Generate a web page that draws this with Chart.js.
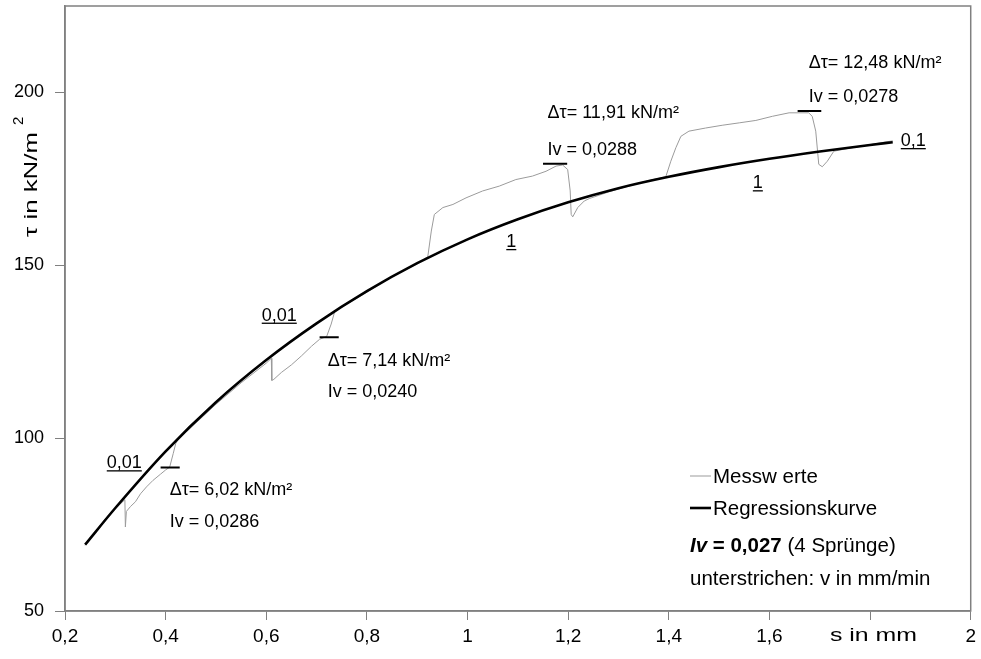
<!DOCTYPE html>
<html>
<head>
<meta charset="utf-8">
<script src="https://cdn.jsdelivr.net/npm/chart.js@4.4.0/dist/chart.umd.min.js"></script>
<style>
  html, body { margin: 0; padding: 0; background: #fff; }
  canvas { display: block; }
</style>
</head>
<body>
<canvas id="shearChart" width="981" height="659"></canvas>
<script>
// axis ticks
const xTickValues = [0.2, 0.4, 0.6, 0.8, 1, 1.2, 1.4, 1.6, 1.8, 2];
const xTickLabels = ['0,2', '0,4', '0,6', '0,8', '1', '1,2', '1,4', '1,6', '', '2'];
const yTickValues = [50, 100, 150, 200];

// regression curve (s in mm, tau in kN/m2)
const regressionS = [0.24, 0.3, 0.4, 0.5, 0.6, 0.7, 0.8, 0.9, 1.0, 1.1, 1.2, 1.3, 1.4, 1.5, 1.6, 1.7, 1.8, 1.845];
const regressionTau = [69.2, 79.8, 96.2, 110.4, 122.6, 133.2, 142.5, 150.6, 157.5, 163.3, 168.2, 172.3, 175.6, 178.4, 180.8, 182.9, 184.8, 185.6];

// measured values
const measuredS = [
    0.240, 0.260, 0.280, 0.300, 0.319, 0.320, 0.322, 0.330, 0.340, 0.350, 0.362, 0.375, 0.390, 0.400, 0.408, 0.415, 0.420, 0.425,
    0.450, 0.500, 0.550, 0.600, 0.610, 0.611, 0.615, 0.630, 0.650, 0.670, 0.690, 0.706, 0.720, 0.729, 0.736,
    0.760, 0.800, 0.850, 0.900, 0.921, 0.928, 0.934, 0.951, 0.971, 0.997, 1.030, 1.063, 1.096, 1.129, 1.156, 1.176, 1.189, 1.199, 1.204, 1.206, 1.209, 1.219, 1.232, 1.242,
    1.280, 1.320, 1.360, 1.394, 1.404, 1.414, 1.424, 1.440, 1.473, 1.506, 1.540, 1.573, 1.606, 1.639, 1.678, 1.685, 1.692, 1.698, 1.705, 1.715, 1.728,
    1.760, 1.800, 1.845
];
const measuredTau = [
    69.0, 72.9, 76.6, 79.6, 82.2, 74.3, 78.8, 80.2, 81.6, 83.9, 85.9, 87.8, 89.6, 90.8, 91.6, 95.5, 98.4, 99.8,
    103.0, 109.8, 116.0, 121.7, 123.1, 116.7, 117.0, 119.0, 121.2, 123.8, 126.6, 128.6, 129.4, 133.0, 136.6,
    138.8, 142.2, 146.8, 150.4, 152.5, 159.9, 164.7, 166.7, 167.6, 169.5, 171.5, 172.9, 174.8, 175.8, 177.2, 178.7, 179.0, 177.7, 171.5, 164.7, 164.0, 166.7, 168.6, 169.3,
    171.2, 172.9, 174.5, 175.6, 180.1, 184.0, 187.3, 188.8, 189.7, 190.5, 191.2, 191.9, 193.1, 194.1, 194.1, 193.1, 188.8, 179.2, 178.5, 180.1, 183.0,
    183.9, 184.9, 186.0
];

// the four velocity jumps
const jumpStartS = [0.390, 0.706, 1.150, 1.656];
const jumpEndS = [0.428, 0.744, 1.198, 1.703];
const jumpTau = [91.5, 129.2, 179.4, 194.6];
const jumpDeltaTau = ['6,02', '7,14', '11,91', '12,48'];
const jumpIv = ['0,0286', '0,0240', '0,0288', '0,0278'];

// velocities v in mm/min (underlined)
const speedLabels = ['0,01', '0,01', '1', '1', '0,1'];

// where the texts sit, in axis units
const jumpTextPos = [
    { s: 0.408, tau1: 83.5, tau2: 74.3 },
    { s: 0.722, tau1: 121.0, tau2: 111.8 },
    { s: 1.159, tau1: 192.6, tau2: 182.0 },
    { s: 1.678, tau1: 207.0, tau2: 197.3 }
];
const speedPos = [
    { s: 0.283, tau: 91.3 },
    { s: 0.591, tau: 134.0 },
    { s: 1.077, tau: 155.3 },
    { s: 1.567, tau: 172.3 },
    { s: 1.861, tau: 184.5 }
];

const FONT = '"Liberation Sans", Arial, Helvetica, sans-serif';

function toPoints(xs, ys) {
    return xs.map((v, i) => ({ x: v, y: ys[i] }));
}

const markerSets = jumpTau.map((t, i) => ({
    label: 'jump' + (i + 1),
    data: [{ x: jumpStartS[i], y: t }, { x: jumpEndS[i], y: t }],
    showLine: true,
    borderColor: '#000',
    borderWidth: 2,
    pointRadius: 0,
    order: 2
}));

// frame, texts and legend drawn on top of the plot
const overlayPlugin = {
    id: 'overlay',
    afterDraw(chart) {
        const { ctx, chartArea: a, scales: { x, y } } = chart;
        ctx.save();
        ctx.strokeStyle = '#808080';
        ctx.lineWidth = 1.5;
        ctx.strokeRect(a.left, a.top, a.right - a.left, a.bottom - a.top);

        ctx.fillStyle = '#000';
        ctx.textAlign = 'left';
        ctx.textBaseline = 'alphabetic';
        ctx.font = '18px ' + FONT;
        jumpDeltaTau.forEach((d, i) => {
            const p = jumpTextPos[i];
            const px = x.getPixelForValue(p.s);
            ctx.fillText('\u0394\u03c4= ' + d + ' kN/m\u00b2', px, y.getPixelForValue(p.tau1));
            ctx.fillText('Iv = ' + jumpIv[i], px, y.getPixelForValue(p.tau2));
        });

        speedLabels.forEach((t, i) => {
            const p = speedPos[i];
            const px = x.getPixelForValue(p.s);
            const py = y.getPixelForValue(p.tau);
            ctx.fillText(t, px, py);
            ctx.fillRect(px, py + 2, ctx.measureText(t).width, 1.3);
        });

        // legend
        ctx.lineWidth = 1;
        ctx.strokeStyle = '#9b9b9b';
        ctx.beginPath(); ctx.moveTo(690, 476); ctx.lineTo(711, 476); ctx.stroke();
        ctx.lineWidth = 2.6;
        ctx.strokeStyle = '#000';
        ctx.beginPath(); ctx.moveTo(690, 508); ctx.lineTo(711, 508); ctx.stroke();
        ctx.font = '20.5px ' + FONT;
        ctx.fillText('Messw erte', 713, 483);
        ctx.fillText('Regressionskurve', 713, 515);
        let lx = 690;
        ctx.font = 'italic bold 20.5px ' + FONT;
        ctx.fillText('Iv', lx, 552);
        lx += ctx.measureText('Iv').width;
        ctx.font = 'bold 20.5px ' + FONT;
        ctx.fillText(' = 0,027', lx, 552);
        lx += ctx.measureText(' = 0,027').width;
        ctx.font = '20.5px ' + FONT;
        ctx.fillText(' (4 Spr\u00fcnge)', lx, 552);
        ctx.fillText('unterstrichen: v in mm/min', 690, 585);

        // axis titles
        ctx.font = '19px ' + FONT;
        const sw = ctx.measureText('s in mm').width;
        ctx.save();
        ctx.translate(830, 641);
        ctx.scale(87 / sw, 1);
        ctx.fillText('s in mm', 0, 0);
        ctx.restore();

        ctx.save();
        ctx.translate(37, 237);
        ctx.rotate(-Math.PI / 2);
        ctx.font = '19px ' + FONT;
        const tw = ctx.measureText('\u03c4 in kN/m').width;
        ctx.save();
        ctx.scale(105 / tw, 1);
        ctx.fillText('\u03c4 in kN/m', 0, 0);
        ctx.restore();
        ctx.font = '15px ' + FONT;
        ctx.fillText('2', 112, -14);
        ctx.restore();
        ctx.restore();
    }
};

const ctx = document.getElementById('shearChart').getContext('2d');
const shearChart = new Chart(ctx, {
    type: 'scatter',
    data: {
        datasets: [
            {
                label: 'Messwerte',
                data: toPoints(measuredS, measuredTau),
                showLine: true,
                borderColor: '#9b9b9b',
                borderWidth: 1,
                pointRadius: 0,
                order: 3
            },
            {
                label: 'Regressionskurve',
                data: toPoints(regressionS, regressionTau),
                showLine: true,
                borderColor: '#000',
                borderWidth: 2.6,
                pointRadius: 0,
                cubicInterpolationMode: 'monotone',
                order: 1
            },
            ...markerSets
        ]
    },
    options: {
        responsive: false,
        animation: false,
        layout: { padding: { top: 6, right: 9, left: 0, bottom: 0 } },
        plugins: {
            legend: { display: false },
            tooltip: { enabled: false }
        },
        scales: {
            x: {
                type: 'linear',
                min: 0.2,
                max: 2,
                afterBuildTicks: s => { s.ticks = xTickValues.map(v => ({ value: v })); },
                afterFit: s => { s.height = 48; },
                grid: { drawOnChartArea: false, drawTicks: true, tickLength: 9, color: '#808080' },
                border: { color: '#808080', width: 1.5 },
                ticks: {
                    color: '#000',
                    padding: 5,
                    maxRotation: 0,
                    font: { family: FONT, size: 19 },
                    callback: (v, i) => xTickLabels[i]
                }
            },
            y: {
                type: 'linear',
                min: 50,
                max: 225,
                afterBuildTicks: s => { s.ticks = yTickValues.map(v => ({ value: v })); },
                afterFit: s => { s.width = 65; s.paddingTop = 0; s.paddingBottom = 0; },
                grid: { drawOnChartArea: false, drawTicks: true, tickLength: 10, color: '#808080' },
                border: { color: '#808080', width: 1.5 },
                ticks: {
                    color: '#000',
                    padding: 11,
                    font: { family: FONT, size: 18 },
                    callback: v => String(v)
                }
            }
        }
    },
    plugins: [overlayPlugin]
});
</script>
</body>
</html>
